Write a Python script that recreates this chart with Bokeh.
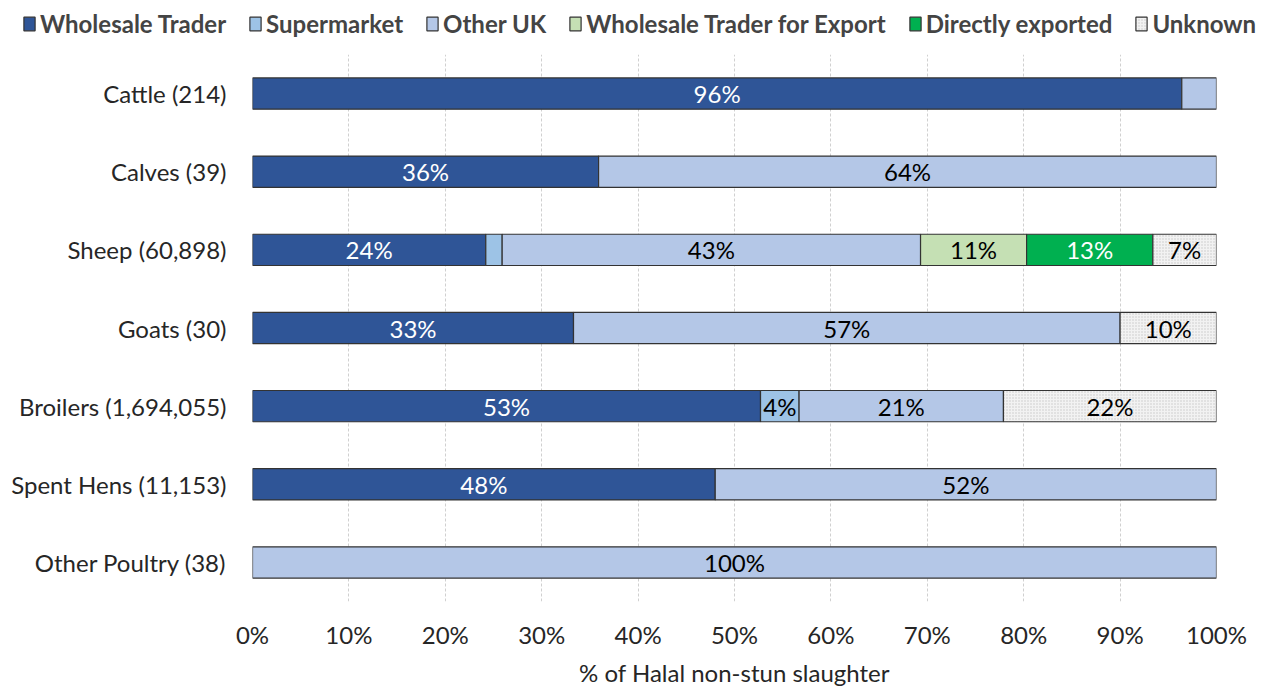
import numpy as np
from bokeh.plotting import figure
from bokeh.layouts import column
from bokeh.models import ColumnDataSource, FactorRange, Legend, LegendItem, FixedTicker, Range1d
from bokeh.core.properties import value
from bokeh.embed import file_html
from bokeh.resources import INLINE

categories = ["Cattle (214)", "Calves (39)", "Sheep (60,898)", "Goats (30)",
              "Broilers (1,694,055)", "Spent Hens (11,153)", "Other Poultry (38)"]
series = ["Wholesale Trader", "Supermarket", "Other UK",
          "Wholesale Trader for Export", "Directly exported", "Unknown"]
wholesale = [96.4, 35.9, 24.2, 33.3, 52.7, 48.0, 0.0]
supermarket = [0.0, 0.0, 1.7, 0.0, 4.0, 0.0, 0.0]
other_uk = [3.6, 64.1, 43.4, 56.7, 21.2, 52.0, 100.0]
wt_export = [0.0, 0.0, 11.0, 0.0, 0.0, 0.0, 0.0]
direct_export = [0.0, 0.0, 13.1, 0.0, 0.0, 0.0, 0.0]
unknown = [0.0, 0.0, 6.6, 10.0, 22.1, 0.0, 0.0]
tick_values = [0, 10, 20, 30, 40, 50, 60, 70, 80, 90, 100]
tick_labels = ["0%", "10%", "20%", "30%", "40%", "50%", "60%", "70%", "80%", "90%", "100%"]

colors = ["#2f5597", "#9dc3e6", "#b4c7e7", "#c5e0b4", "#00b050", "#f2f2f2"]
text_colors = ["white", "#000000", "#000000", "#000000", "white", "#000000"]
FONT = "Lato"
FS = "24px"

data = np.array([wholesale, supermarket, other_uk, wt_export, direct_export, unknown])
rights = np.cumsum(data, axis=0)
lefts = rights - data

W = 1262
p = figure(width=W, height=635, output_backend="svg", toolbar_location=None,
           y_range=FactorRange(*categories[::-1], range_padding=0),
           x_range=Range1d(0, 100),
           min_border_left=252, min_border_right=46, min_border_top=0, min_border_bottom=87)
p.outline_line_color = None
p.frame_align = False

lf = figure(width=W, height=54, output_backend="svg", toolbar_location=None,
            x_range=Range1d(0, 1), y_range=Range1d(0, 1),
            x_axis_location=None, y_axis_location=None,
            min_border_left=0, min_border_right=0, min_border_top=0, min_border_bottom=0)
lf.outline_line_color = None
lf.grid.visible = False
lf.frame_align = False

items = []
for i, name in enumerate(series):
    mask = data[i] > 0
    src = ColumnDataSource(dict(
        y=[c for c, m in zip(categories, mask) if m],
        left=lefts[i][mask], right=rights[i][mask],
        mid=((lefts[i] + rights[i]) / 2)[mask],
        lab=[f"{int(v + 0.5)}%" if v >= 3.9 else "" for v in data[i][mask]],
    ))
    kw = dict(fill_color=colors[i], line_color="#333333", line_width=1.2)
    if name == "Unknown":
        kw.update(hatch_pattern="dot", hatch_scale=3, hatch_color="#c8c8c8", hatch_weight=1)
    p.hbar(y="y", left="left", right="right", height=0.4, source=src, **kw)
    p.text(x="mid", y="y", text="lab", source=src, text_align="center",
           text_baseline="middle", text_color=text_colors[i],
           text_font=value(FONT), text_font_size=FS)
    # legend proxy in the legend strip (placed outside its visible range)
    lr = lf.hbar(y=[-5], left=[0], right=[1], height=0.4, **kw)
    items.append(LegendItem(label=name, renderers=[lr]))

legend = Legend(items=items, orientation="horizontal", location=(22, 16),
                label_text_font=FONT, label_text_font_style="bold",
                label_text_font_size="24px", glyph_width=14, glyph_height=17,
                label_standoff=4, spacing=22, padding=0, margin=0,
                border_line_color=None, background_fill_alpha=0)
lf.add_layout(legend, "center")

p.xaxis.ticker = FixedTicker(ticks=tick_values)
p.xaxis.major_label_overrides = {v: l for v, l in zip(tick_values, tick_labels)}
p.xaxis.axis_label = "% of Halal non-stun slaughter"
p.xaxis.axis_label_text_font_style = "normal"
for ax in (p.xaxis, p.yaxis):
    ax.axis_line_color = None
    ax.major_tick_line_color = None
    ax.minor_tick_line_color = None
    ax.major_tick_out = 0
    ax.major_tick_in = 0
    ax.minor_tick_out = 0
    ax.major_label_text_font = FONT
    ax.major_label_text_font_size = FS
    ax.major_label_text_color = "#262626"
p.xaxis.axis_label_text_font = FONT
p.xaxis.axis_label_text_font_size = FS
p.xaxis.axis_label_text_color = "#262626"
p.xaxis.major_label_standoff = 18
p.xaxis.axis_label_standoff = 6
p.yaxis.major_label_standoff = 26

p.xgrid.grid_line_color = "#d0d0d0"
p.xgrid.grid_line_dash = "3 2"
p.ygrid.grid_line_color = None

layout = column(lf, p, spacing=0)
open("out.html", "w").write(file_html(layout, INLINE))
